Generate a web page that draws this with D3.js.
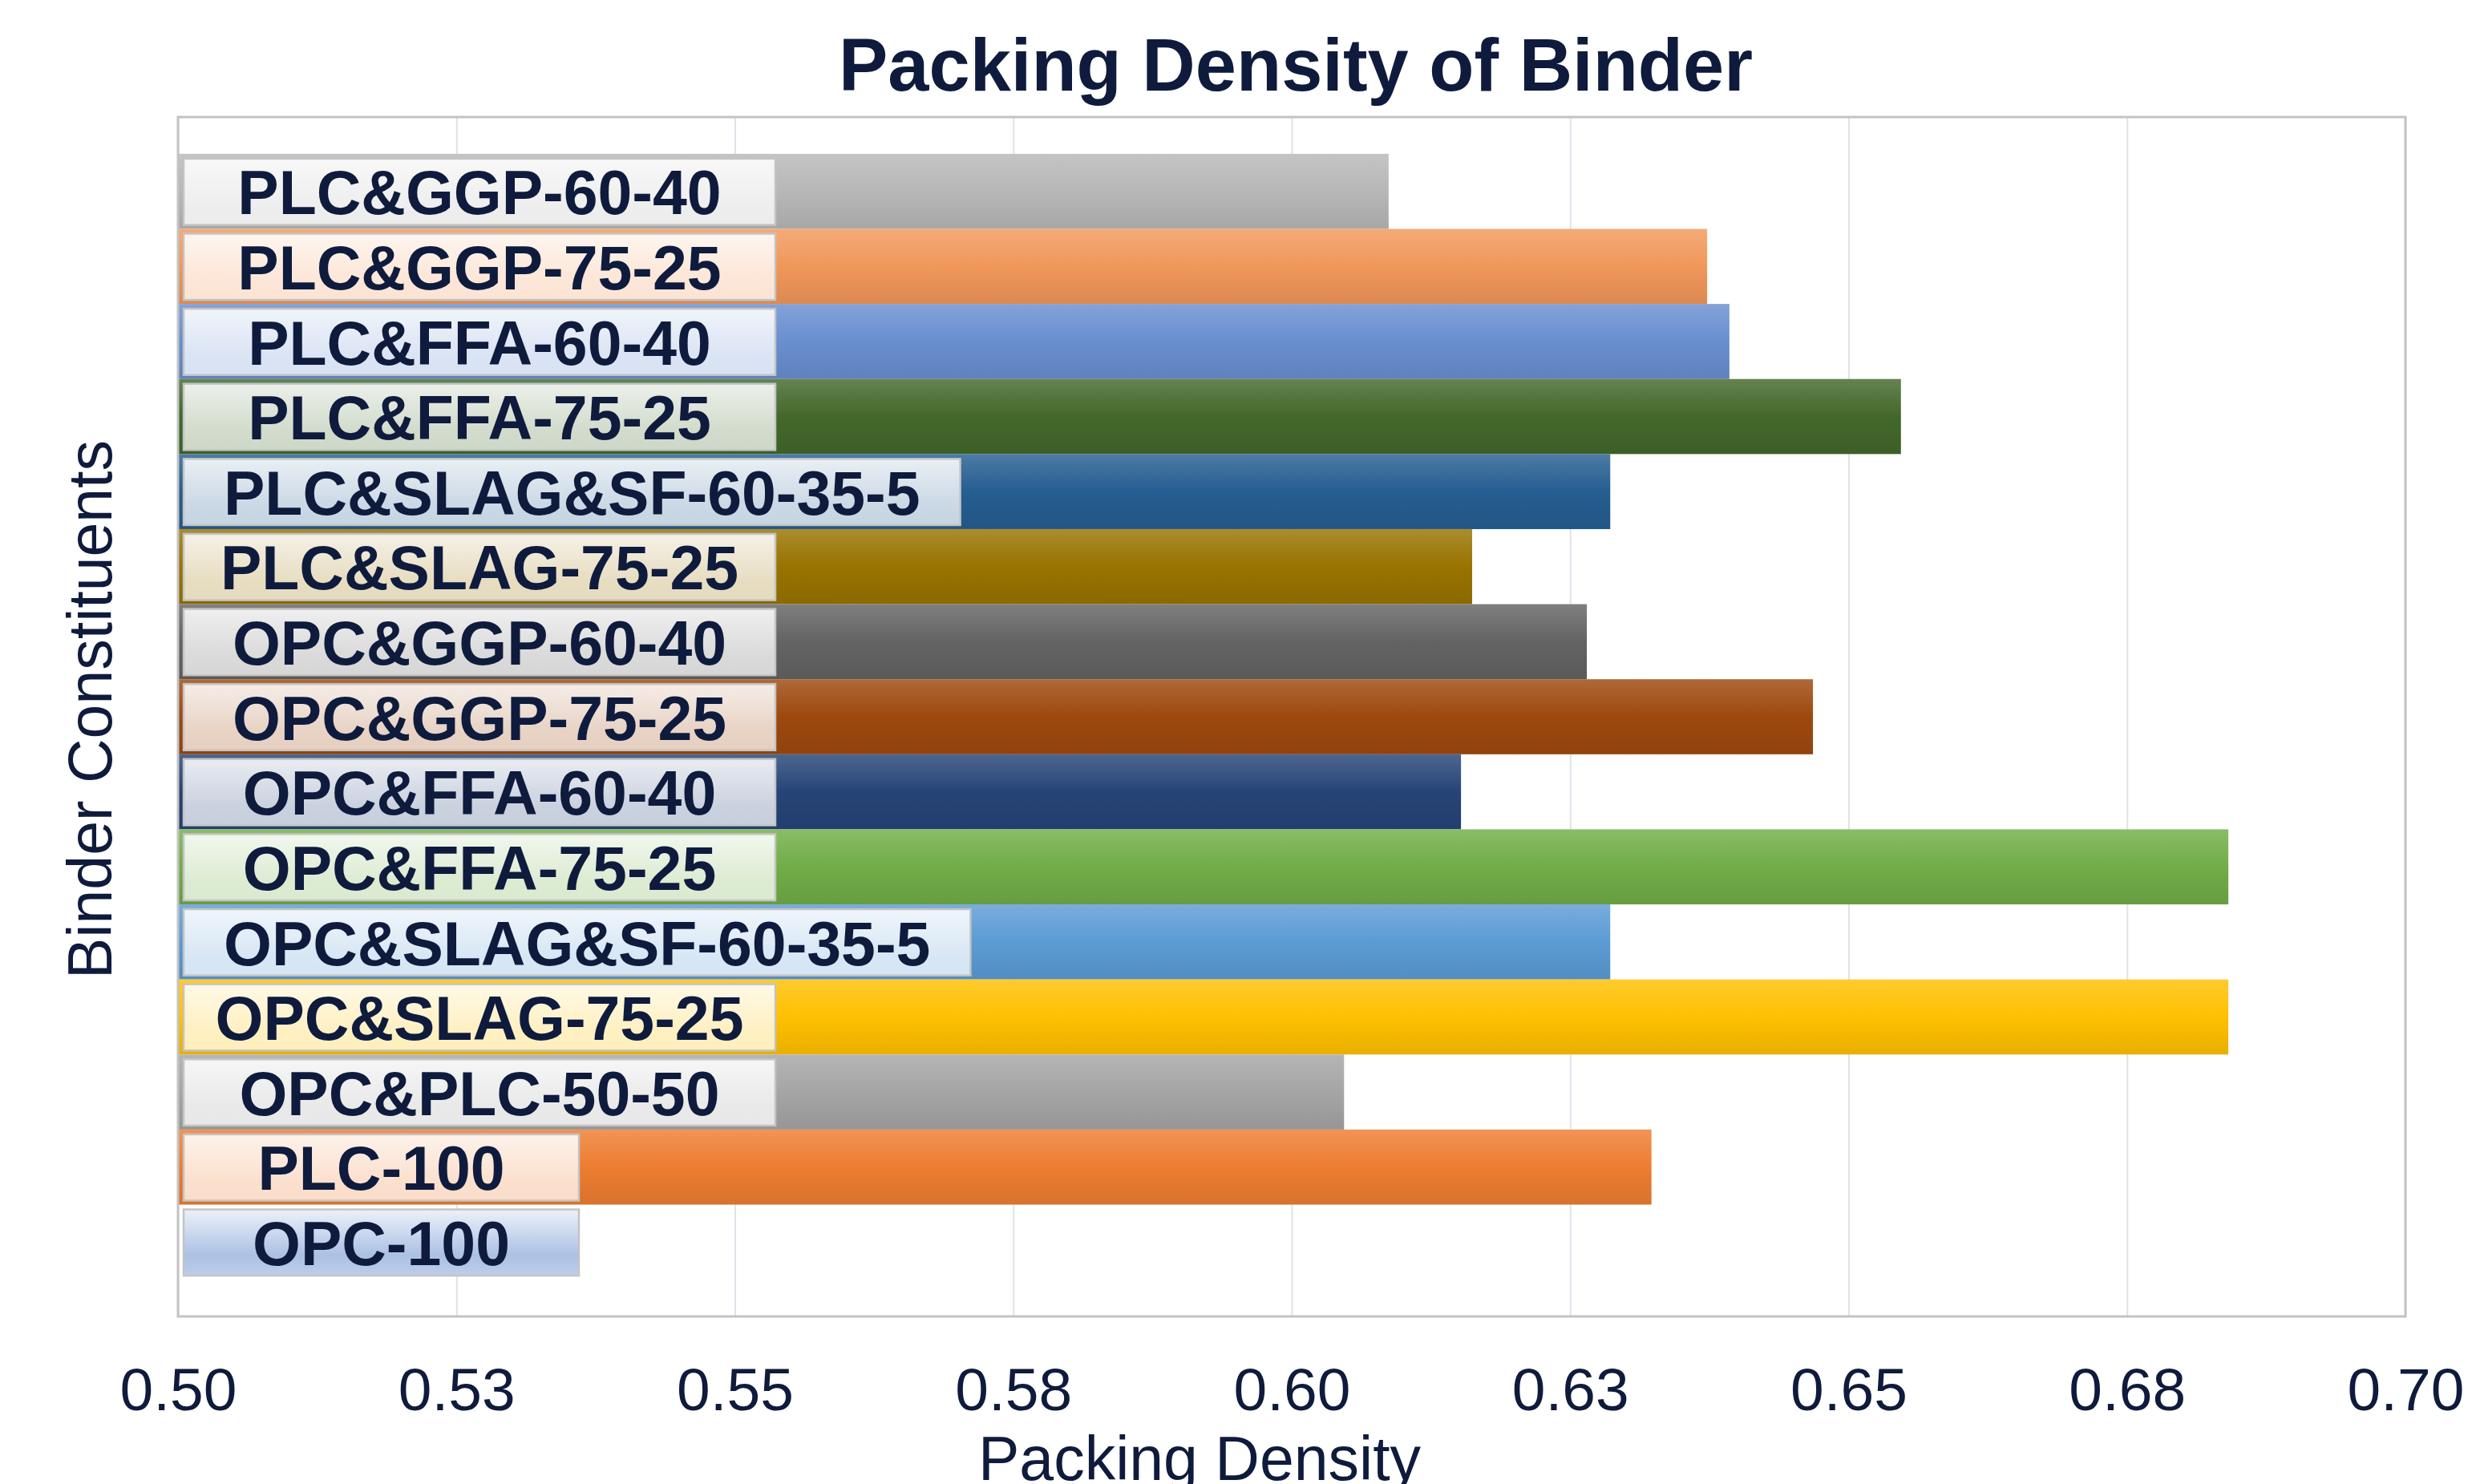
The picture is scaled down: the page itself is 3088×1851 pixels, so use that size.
<!DOCTYPE html>
<html>
<head>
<meta charset="utf-8">
<script src="https://cdn.jsdelivr.net/npm/d3@7"></script>
<style>
  body { margin: 0; background: #fff; }
  svg { display: block; }
</style>
</head>
<body>
<script>
// categories, top row first
const categories = [
  'PLC&GGP-60-40', 'PLC&GGP-75-25', 'PLC&FFA-60-40', 'PLC&FFA-75-25',
  'PLC&SLAG&SF-60-35-5', 'PLC&SLAG-75-25', 'OPC&GGP-60-40', 'OPC&GGP-75-25',
  'OPC&FFA-60-40', 'OPC&FFA-75-25', 'OPC&SLAG&SF-60-35-5', 'OPC&SLAG-75-25',
  'OPC&PLC-50-50', 'PLC-100', 'OPC-100'
];
const packingDensity = [
  0.6087, 0.6373, 0.6393, 0.6547,
  0.6286, 0.6162, 0.6265, 0.6468,
  0.6152, 0.6841, 0.6286, 0.6841,
  0.6047, 0.6323, 0.5000
];
const colors = [
  '#B7B7B7', '#F1975A', '#698ED0', '#43682B',
  '#255E91', '#997300', '#636363', '#9E480E',
  '#264478', '#70AD47', '#5B9BD5', '#FFC000',
  '#A5A5A5', '#ED7D31', '#4472C4'
];
const tickValues = [0.5, 0.525, 0.55, 0.575, 0.6, 0.625, 0.65, 0.675, 0.7];
const tickLabels = ['0.50', '0.53', '0.55', '0.58', '0.60', '0.63', '0.65', '0.68', '0.70'];

const svgWidth = 3088;
const svgHeight = 1851;
const plot = { left: 222, right: 3000, top: 146, bottom: 1642 };
const ink = '#0f1b3c';
const font = '"Liberation Sans", Arial, sans-serif';

const svg = d3.select('body')
              .append('svg')
              .attr('width', svgWidth)
              .attr('height', svgHeight)
              .style('font-family', font);

const x = d3.scaleLinear()
            .domain([0.5, 0.7])
            .range([plot.left, plot.right]);

const y = d3.scaleBand()
            .domain(categories)
            .range([plot.top, plot.bottom])
            .paddingInner(0)
            .paddingOuter(0.49);

const data = categories.map((c, i) => ({ name: c, value: packingDensity[i], color: colors[i], id: i }));

// gradients for bars and label boxes
const defs = svg.append('defs');
data.forEach(d => {
  const g = defs.append('linearGradient')
                .attr('id', 'bar' + d.id)
                .attr('x1', 0).attr('y1', 0).attr('x2', 0).attr('y2', 1);
  g.append('stop').attr('offset', '0%').attr('stop-color', d3.interpolateRgb(d.color, '#fff')(0.18));
  g.append('stop').attr('offset', '50%').attr('stop-color', d.color);
  g.append('stop').attr('offset', '100%').attr('stop-color', d3.interpolateRgb(d.color, '#000')(0.09));

  // box over an empty bar shows more of the series colour
  const empty = d.value <= 0.5;
  const l = defs.append('linearGradient')
                .attr('id', 'lab' + d.id)
                .attr('x1', 0).attr('y1', 0).attr('x2', 0).attr('y2', 1);
  l.append('stop').attr('offset', '0%').attr('stop-color', d3.interpolateRgb(d.color, '#fff')(0.9));
  l.append('stop').attr('offset', '70%').attr('stop-color', d3.interpolateRgb(d.color, '#fff')(empty ? 0.55 : 0.76));
  l.append('stop').attr('offset', '100%').attr('stop-color', d3.interpolateRgb(d.color, '#fff')(empty ? 0.65 : 0.74));
});

// gridlines
svg.append('g')
   .attr('transform', `translate(0,${plot.bottom})`)
   .call(d3.axisBottom(x).tickValues(tickValues).tickSize(-(plot.bottom - plot.top)).tickFormat(''))
   .call(g => g.select('.domain').remove())
   .call(g => g.selectAll('line').attr('stroke', '#dfe2ea').attr('stroke-width', 2));

// bars
svg.append('g')
   .selectAll('rect')
   .data(data)
   .enter()
   .append('rect')
   .attr('x', x(0.5))
   .attr('y', d => y(d.name))
   .attr('width', d => Math.max(0, x(d.value) - x(0.5)))
   .attr('height', y.bandwidth())
   .attr('fill', d => `url(#bar${d.id})`);

// frame
svg.append('rect')
   .attr('x', plot.left)
   .attr('y', plot.top)
   .attr('width', plot.right - plot.left)
   .attr('height', plot.bottom - plot.top)
   .attr('fill', 'none')
   .attr('stroke', '#c3c3c3')
   .attr('stroke-width', 3);

// label boxes with category names
const labels = svg.append('g')
                  .selectAll('g')
                  .data(data)
                  .enter()
                  .append('g');

labels.append('rect').attr('class', 'box');

labels.append('text')
      .text(d => d.name)
      .attr('y', d => y(d.name) + y.bandwidth() / 2 + 1)
      .attr('dy', '0.36em')
      .attr('text-anchor', 'middle')
      .attr('font-size', 77)
      .attr('font-weight', 'bold')
      .attr('fill', ink);

labels.each(function(d) {
  const g = d3.select(this);
  const t = g.select('text');
  const tw = t.node().getComputedTextLength();
  const w = tw > 720 ? tw + 100 : (tw < 400 ? 493 : 738);
  const bx = plot.left + 7;
  t.attr('x', bx + w / 2);
  g.select('rect.box')
   .attr('x', bx)
   .attr('y', y(d.name) + 6)
   .attr('width', w)
   .attr('height', y.bandwidth() - 11)
   .attr('fill', `url(#lab${d.id})`)
   .attr('stroke', '#c4c4c4')
   .attr('stroke-width', 2.5);
});

// x axis tick labels
svg.append('g')
   .attr('transform', `translate(0,${plot.bottom})`)
   .call(d3.axisBottom(x).tickValues(tickValues).tickSize(0).tickPadding(64)
           .tickFormat((d, i) => tickLabels[i]))
   .call(g => g.select('.domain').remove())
   .call(g => g.selectAll('text')
               .attr('font-size', 75)
               .attr('font-family', font)
               .attr('fill', ink));

// titles
svg.append('text')
   .attr('x', 1616)
   .attr('y', 113)
   .attr('text-anchor', 'middle')
   .attr('font-size', 92)
   .attr('font-weight', 'bold')
   .attr('fill', ink)
   .text('Packing Density of Binder');

svg.append('text')
   .attr('x', 1496)
   .attr('y', 1846)
   .attr('text-anchor', 'middle')
   .attr('font-size', 77)
   .attr('fill', ink)
   .text('Packing Density');

svg.append('text')
   .attr('transform', 'translate(139,885) rotate(-90)')
   .attr('text-anchor', 'middle')
   .attr('font-size', 77)
   .attr('fill', ink)
   .text('Binder Constituents');
</script>
</body>
</html>
